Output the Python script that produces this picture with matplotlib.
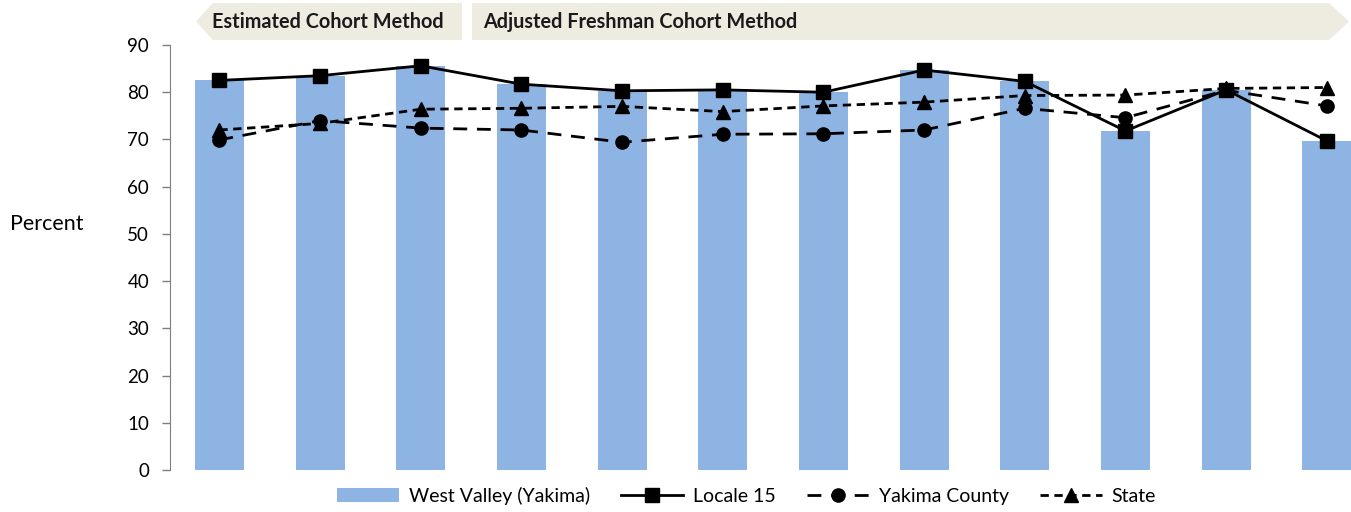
import matplotlib.pyplot as plt
from matplotlib.patches import Polygon
import numpy as np

plt.rcParams["font.family"] = ["Lato", "DejaVu Sans"]

years = ["2003", "2004", "2005", "2006", "2007", "2008", "2009", "2010",
         "2011", "2012", "2013", "2014"]
west_valley = [82.6, 83.5, 85.6, 81.7, 80.3, 80.5, 80.0, 84.7, 82.3, 71.8, 80.5, 69.7]
locale_15 = [82.5, 83.5, 85.6, 81.7, 80.3, 80.5, 80.0, 84.7, 82.3, 71.8, 80.5, 69.7]
yakima_county = [69.9, 74.0, 72.4, 72.0, 69.4, 71.1, 71.2, 72.0, 76.6, 74.6, 80.4, 77.1]
state = [72.0, 73.4, 76.4, 76.6, 77.0, 75.9, 77.1, 77.9, 79.3, 79.4, 80.8, 81.0]

BAR_COLOR = "#8EB4E3"
BAND_COLOR = "#EEEBE0"
FS = 13.5

fig = plt.figure(figsize=(13.51, 5.12), dpi=100)
ax = fig.add_axes([170 / 1351, 42 / 512, 1181 / 1351, 425 / 512])

x = np.arange(len(years))
bars = ax.bar(x, west_valley, width=0.487, color=BAR_COLOR, label="West Valley (Yakima)", zorder=1)
l1, = ax.plot(x, locale_15, color="black", linewidth=2, marker="s", markersize=10.5,
              label="Locale 15", zorder=3)
l2, = ax.plot(x, yakima_county, color="black", linewidth=2, linestyle=(0, (5, 3.5)),
              marker="o", markersize=9.5, label="Yakima County", zorder=3)
l3, = ax.plot(x, state, color="black", linewidth=2, linestyle=(0, (3, 2)),
              marker="^", markersize=9.5, label="State", zorder=3)

ax.set_xlim(-0.49, 11.24)
ax.set_ylim(0, 90)
ax.set_yticks(range(0, 91, 10))
ax.set_xticks([])
for side in ["top", "right", "bottom"]:
    ax.spines[side].set_visible(False)
ax.spines["left"].set_color("#7f7f7f")
ax.tick_params(axis="y", length=6, width=1, color="#7f7f7f", pad=9, labelsize=FS)

fig.text(10 / 1351, 1 - 224 / 512, "Percent", fontsize=15.5, va="center", ha="left")

ax.legend([bars, l1, l2, l3], ["West Valley (Yakima)", "Locale 15", "Yakima County", "State"],
          loc="lower center", bbox_to_anchor=(0.488, -0.1), ncol=4, frameon=False,
          fontsize=14, handlelength=3.2, columnspacing=1.6, handletextpad=0.5,
          borderaxespad=0)

# banner arrows along the top
W, H = 1351.0, 512.0
def px(xp, yp):
    return (xp / W, 1 - yp / H)

top, bot = 3, 40
mid = (top + bot) / 2
left_arrow = [px(196, mid), px(213, top), px(462, top), px(462, bot), px(213, bot)]
right_arrow = [px(472, top), px(1329, top), px(1349, mid), px(1329, bot), px(472, bot)]
for pts in (left_arrow, right_arrow):
    fig.patches.append(Polygon(pts, closed=True, transform=fig.transFigure,
                               facecolor=BAND_COLOR, edgecolor="none"))

fig.text(212 / W, 1 - mid / H, "Estimated Cohort Method", fontsize=14.3, fontweight="bold",
         va="center", ha="left", color="#1a1a1a")
fig.text(483 / W, 1 - mid / H, "Adjusted Freshman Cohort Method", fontsize=14.3,
         fontweight="bold", va="center", ha="left", color="#1a1a1a")

fig.savefig("out.png", dpi=100)
